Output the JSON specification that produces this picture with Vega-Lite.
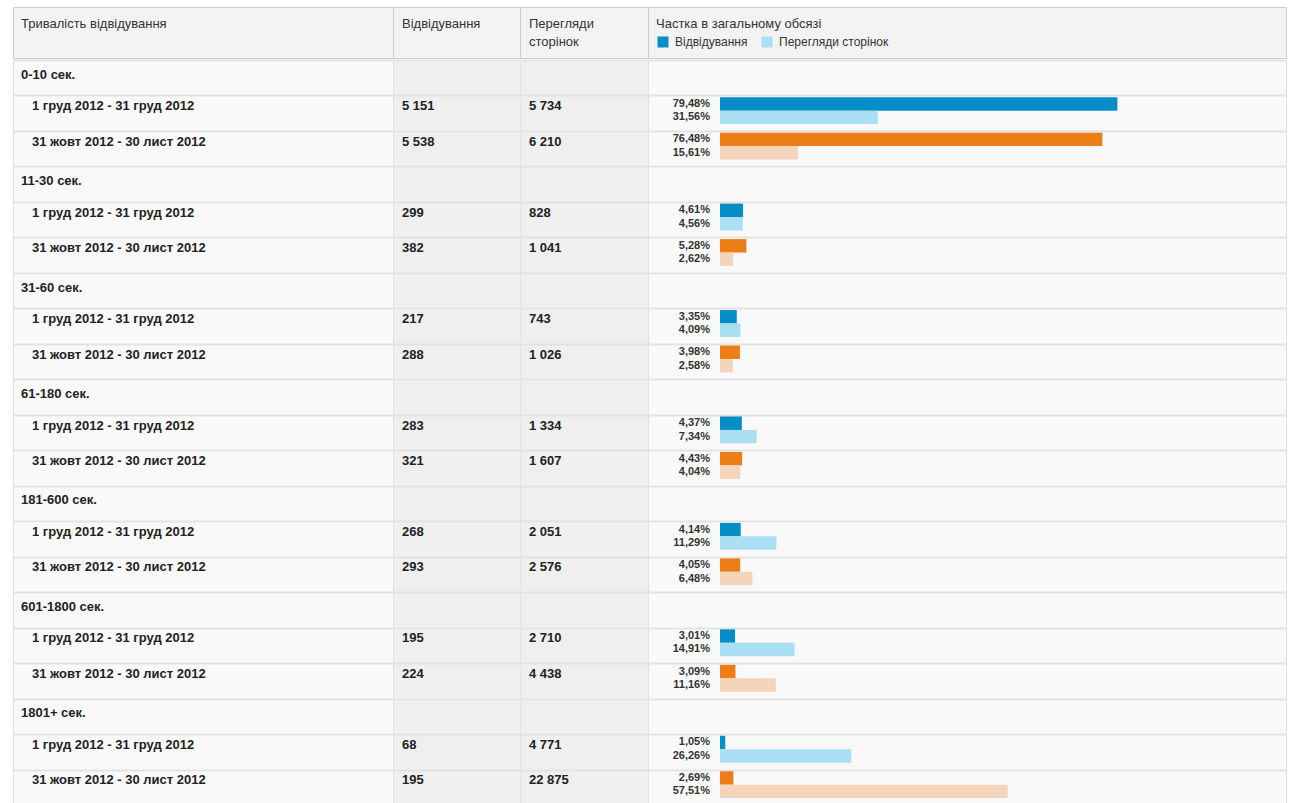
{
  "$schema": "https://vega.github.io/schema/vega-lite/v6.json",
  "background": "white",
  "padding": {"left": 12, "top": 6, "right": 5, "bottom": 0},
  "datasets": {
    "rows": [
      {"row": 1, "kind": "group", "label": "0-10 сек."},
      {"row": 2, "kind": "period", "label": "1 груд 2012 - 31 груд 2012", "visits": 5151, "pageviews": 5734, "visitsShare": 0.7948, "pvShare": 0.3156},
      {"row": 3, "kind": "period", "label": "31 жовт 2012 - 30 лист 2012", "visits": 5538, "pageviews": 6210, "visitsShare": 0.7648, "pvShare": 0.1561},
      {"row": 4, "kind": "group", "label": "11-30 сек."},
      {"row": 5, "kind": "period", "label": "1 груд 2012 - 31 груд 2012", "visits": 299, "pageviews": 828, "visitsShare": 0.0461, "pvShare": 0.0456},
      {"row": 6, "kind": "period", "label": "31 жовт 2012 - 30 лист 2012", "visits": 382, "pageviews": 1041, "visitsShare": 0.0528, "pvShare": 0.0262},
      {"row": 7, "kind": "group", "label": "31-60 сек."},
      {"row": 8, "kind": "period", "label": "1 груд 2012 - 31 груд 2012", "visits": 217, "pageviews": 743, "visitsShare": 0.0335, "pvShare": 0.0409},
      {"row": 9, "kind": "period", "label": "31 жовт 2012 - 30 лист 2012", "visits": 288, "pageviews": 1026, "visitsShare": 0.0398, "pvShare": 0.0258},
      {"row": 10, "kind": "group", "label": "61-180 сек."},
      {"row": 11, "kind": "period", "label": "1 груд 2012 - 31 груд 2012", "visits": 283, "pageviews": 1334, "visitsShare": 0.0437, "pvShare": 0.0734},
      {"row": 12, "kind": "period", "label": "31 жовт 2012 - 30 лист 2012", "visits": 321, "pageviews": 1607, "visitsShare": 0.0443, "pvShare": 0.0404},
      {"row": 13, "kind": "group", "label": "181-600 сек."},
      {"row": 14, "kind": "period", "label": "1 груд 2012 - 31 груд 2012", "visits": 268, "pageviews": 2051, "visitsShare": 0.0414, "pvShare": 0.1129},
      {"row": 15, "kind": "period", "label": "31 жовт 2012 - 30 лист 2012", "visits": 293, "pageviews": 2576, "visitsShare": 0.0405, "pvShare": 0.0648},
      {"row": 16, "kind": "group", "label": "601-1800 сек."},
      {"row": 17, "kind": "period", "label": "1 груд 2012 - 31 груд 2012", "visits": 195, "pageviews": 2710, "visitsShare": 0.0301, "pvShare": 0.1491},
      {"row": 18, "kind": "period", "label": "31 жовт 2012 - 30 лист 2012", "visits": 224, "pageviews": 4438, "visitsShare": 0.0309, "pvShare": 0.1116},
      {"row": 19, "kind": "group", "label": "1801+ сек."},
      {"row": 20, "kind": "period", "label": "1 груд 2012 - 31 груд 2012", "visits": 68, "pageviews": 4771, "visitsShare": 0.0105, "pvShare": 0.2626},
      {"row": 21, "kind": "period", "label": "31 жовт 2012 - 30 лист 2012", "visits": 195, "pageviews": 22875, "visitsShare": 0.0269, "pvShare": 0.5751}
    ]
  },
  "spacing": 0,
  "resolve": {"scale": {"color": "independent"}, "legend": {"color": "independent"}},
  "vconcat": [
    {
      "spacing": 0,
      "bounds": "flush",
      "resolve": {"scale": {"color": "independent"}, "legend": {"color": "independent"}},
      "hconcat": [
        {
          "width": 380, "height": 51,
          "view": {"fill": "#f3f3f3", "stroke": "#cccccc"},
          "data": {"values": [{"h": "Тривалість відвідування"}]},
          "mark": {"type": "text", "align": "left", "baseline": "alphabetic", "fontSize": 13, "color": "#333333", "lineBreak": "\n", "lineHeight": 18},
          "encoding": {"text": {"field": "h"}, "x": {"value": 8}, "y": {"value": 21}}
        },
        {
          "width": 127, "height": 51,
          "view": {"fill": "#f3f3f3", "stroke": "#cccccc"},
          "data": {"values": [{"h": "Відвідування"}]},
          "mark": {"type": "text", "align": "left", "baseline": "alphabetic", "fontSize": 13, "color": "#333333", "lineBreak": "\n", "lineHeight": 18},
          "encoding": {"text": {"field": "h"}, "x": {"value": 9}, "y": {"value": 21}}
        },
        {
          "width": 128, "height": 51,
          "view": {"fill": "#f3f3f3", "stroke": "#cccccc"},
          "data": {"values": [{"h": "Перегляди\nсторінок"}]},
          "mark": {"type": "text", "align": "left", "baseline": "alphabetic", "fontSize": 13, "color": "#333333", "lineBreak": "\n", "lineHeight": 18},
          "encoding": {"text": {"field": "h"}, "x": {"value": 9}, "y": {"value": 21}}
        },
        {
          "width": 638, "height": 51,
          "view": {"fill": "#f3f3f3", "stroke": "#cccccc"},
          "layer": [
            {
              "data": {"values": [{"h": "Частка в загальному обсязі"}]},
              "mark": {"type": "text", "align": "left", "baseline": "alphabetic", "fontSize": 13, "color": "#333333"},
              "encoding": {"text": {"field": "h"}, "x": {"value": 8}, "y": {"value": 21}}
            },
            {
              "data": {"values": [{"m": "Відвідування"}, {"m": "Перегляди сторінок"}]},
              "mark": {"type": "square", "opacity": 0},
              "encoding": {
                "color": {
                  "field": "m", "type": "nominal",
                  "scale": {"domain": ["Відвідування", "Перегляди сторінок"], "range": ["#058dc7", "#aadff3"]},
                  "legend": {
                    "orient": "none", "legendX": 9, "legendY": 29, "direction": "horizontal", "title": null,
                    "symbolType": "square", "symbolSize": 121, "symbolOpacity": 1, "symbolStrokeWidth": 0,
                    "labelFontSize": 12, "labelColor": "#333333", "labelOffset": 6,
                    "columnPadding": 13, "padding": 0
                  }
                }
              }
            }
          ]
        }
      ]
    },
    {
      "spacing": 0,
      "bounds": "flush",
      "resolve": {"scale": {"color": "independent"}, "legend": {"color": "independent"}},
      "hconcat": [
        {
          "width": 380, "height": 745,
          "view": {"fill": "#f9f9f9", "stroke": "#e2e2e2"},
          "data": {"name": "rows"},
          "encoding": {
            "y": {"field": "row", "type": "ordinal",
                  "scale": {"domain": [1,2,3,4,5,6,7,8,9,10,11,12,13,14,15,16,17,18,19,20,21], "paddingInner": 0, "paddingOuter": 0},
                  "axis": {"grid": true, "tickBand": "extent", "labels": false, "ticks": false, "domain": false, "title": null, "gridColor": "#e3e3e3", "gridWidth": 2, "minExtent": 0, "maxExtent": 0}},
            "text": {"field": "label"}
          },
          "layer": [
            {
              "transform": [{"filter": {"field": "kind", "equal": "group"}}],
              "mark": {"type": "text", "align": "left", "baseline": "middle", "fontSize": 13, "fontWeight": "bold", "color": "#222222", "dy": -3},
              "encoding": {"x": {"value": 8}}
            },
            {
              "transform": [{"filter": {"field": "kind", "equal": "period"}}],
              "mark": {"type": "text", "align": "left", "baseline": "middle", "fontSize": 13, "fontWeight": "bold", "color": "#222222", "dy": -7},
              "encoding": {"x": {"value": 19}}
            }
          ]
        },
        {
          "width": 127, "height": 745,
          "view": {"fill": "#efefef", "stroke": "#e2e2e2"},
          "data": {"name": "rows"},
          "transform": [{"filter": {"field": "kind", "equal": "period"}}],
          "mark": {"type": "text", "align": "left", "baseline": "middle", "fontSize": 13, "fontWeight": "bold", "color": "#222222", "dy": -7},
          "encoding": {
            "y": {"field": "row", "type": "ordinal",
                  "scale": {"domain": [1,2,3,4,5,6,7,8,9,10,11,12,13,14,15,16,17,18,19,20,21], "paddingInner": 0, "paddingOuter": 0},
                  "axis": {"grid": true, "tickBand": "extent", "labels": false, "ticks": false, "domain": false, "title": null, "gridColor": "#e3e3e3", "gridWidth": 2, "minExtent": 0, "maxExtent": 0}},
            "x": {"value": 9},
            "text": {"field": "visits", "type": "quantitative", "format": ","}
          }
        },
        {
          "width": 128, "height": 745,
          "view": {"fill": "#efefef", "stroke": "#e2e2e2"},
          "data": {"name": "rows"},
          "transform": [{"filter": {"field": "kind", "equal": "period"}}],
          "mark": {"type": "text", "align": "left", "baseline": "middle", "fontSize": 13, "fontWeight": "bold", "color": "#222222", "dy": -7},
          "encoding": {
            "y": {"field": "row", "type": "ordinal",
                  "scale": {"domain": [1,2,3,4,5,6,7,8,9,10,11,12,13,14,15,16,17,18,19,20,21], "paddingInner": 0, "paddingOuter": 0},
                  "axis": {"grid": true, "tickBand": "extent", "labels": false, "ticks": false, "domain": false, "title": null, "gridColor": "#e3e3e3", "gridWidth": 2, "minExtent": 0, "maxExtent": 0}},
            "x": {"value": 9},
            "text": {"field": "pageviews", "type": "quantitative", "format": ","}
          }
        },
        {
          "width": 638, "height": 745,
          "view": {"fill": "#f9f9f9", "stroke": "#e2e2e2"},
          "data": {"name": "rows"},
          "transform": [
            {"filter": {"field": "kind", "equal": "period"}},
            {"fold": ["visitsShare", "pvShare"], "as": ["key", "share"]}
          ],
          "encoding": {
            "y": {"field": "row", "type": "ordinal",
                  "scale": {"domain": [1,2,3,4,5,6,7,8,9,10,11,12,13,14,15,16,17,18,19,20,21], "paddingInner": 0, "paddingOuter": 0},
                  "axis": {"grid": true, "tickBand": "extent", "labels": false, "ticks": false, "domain": false, "title": null, "gridColor": "#e3e3e3", "gridWidth": 2, "minExtent": 0, "maxExtent": 0}},
            "yOffset": {"field": "key", "type": "nominal", "scale": {"domain": ["visitsShare", "pvShare"], "paddingInner": 0, "paddingOuter": 0.32, "align": 0.2}},
            "x": {"field": "share", "type": "quantitative", "stack": null, "scale": {"domain": [-0.144, 1.132], "nice": false, "zero": false}, "axis": null}
          },
          "layer": [
            {
              "transform": [{"filter": {"field": "key", "equal": "visitsShare"}}],
              "mark": {"type": "bar"},
              "encoding": {
                "x2": {"datum": 0},
                "color": {"field": "label", "type": "nominal",
                          "scale": {"domain": ["1 груд 2012 - 31 груд 2012", "31 жовт 2012 - 30 лист 2012"], "range": ["#058dc7", "#ed7e17"]},
                          "legend": null}
              }
            },
            {
              "transform": [{"filter": {"field": "key", "equal": "pvShare"}}],
              "mark": {"type": "bar"},
              "encoding": {
                "x2": {"datum": 0},
                "color": {"field": "label", "type": "nominal",
                          "scale": {"domain": ["1 груд 2012 - 31 груд 2012", "31 жовт 2012 - 30 лист 2012"], "range": ["#aadff3", "#f4d5bc"]},
                          "legend": null}
              }
            },
            {
              "mark": {"type": "text", "align": "right", "baseline": "middle", "dx": -10, "fontSize": 11, "fontWeight": "bold", "color": "#333333"},
              "encoding": {
                "x": {"datum": 0},
                "text": {"field": "share", "type": "quantitative", "format": ".2%"}
              }
            }
          ],
          "resolve": {"scale": {"color": "independent"}, "legend": {"color": "independent"}}
        }
      ]
    }
  ],
  "config": {
    "font": "Liberation Sans",
    "locale": {"number": {"decimal": ",", "thousands": " ", "grouping": [3], "currency": ["", ""]}},
    "concat": {"spacing": 0},
    "axis": {"minExtent": 0}
  }
}
